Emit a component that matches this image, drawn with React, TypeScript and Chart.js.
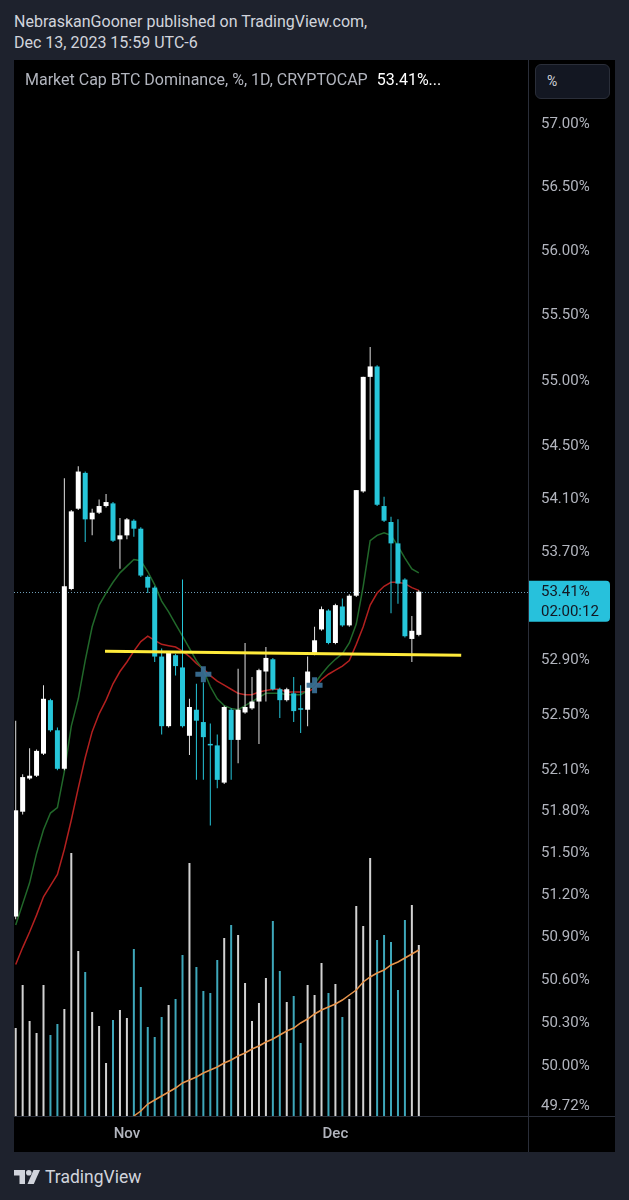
import React, { useEffect, useRef } from 'react';
import { Chart, registerables } from 'chart.js';

Chart.register(...registerables);

// ---- Data (daily candles, Oct 16 -> Dec 13, 2023) ----
const timeTickPositions = [16, 46];
const timeTickLabels = ['Nov', 'Dec'];

const priceTicks = [57.0, 56.5, 56.0, 55.5, 55.0, 54.5, 54.1, 53.7, 52.9, 52.5, 52.1, 51.8, 51.5, 51.2, 50.9, 50.6, 50.3, 50.0, 49.72];

const openPrices = [51.05, 51.8, 52.04, 52.06, 52.22, 52.61, 52.39, 52.11, 53.43, 54.03, 54.3, 53.95, 54.0, 54.05, 54.07, 53.8, 53.83, 53.94, 53.88, 53.52, 53.44, 52.93, 52.42, 52.94, 52.85, 52.35, 52.54, 52.45, 52.29, 52.28, 52.01, 52.54, 52.32, 52.52, 52.55, 52.6, 52.82, 52.91, 52.69, 52.61, 52.66, 52.55, 52.54, 52.95, 53.13, 53.27, 53.03, 53.3, 53.16, 53.38, 54.16, 55.03, 55.11, 54.05, 53.93, 53.77, 53.5, 53.06, 53.09];
const highPrices = [52.46, 52.07, 52.26, 52.25, 52.72, 52.62, 52.41, 54.26, 54.02, 54.35, 54.31, 54.03, 54.1, 54.14, 54.08, 53.96, 53.96, 53.95, 53.89, 53.53, 53.45, 52.99, 52.97, 52.95, 53.5, 52.62, 52.73, 52.74, 52.44, 52.36, 52.57, 52.55, 52.84, 53.03, 52.78, 52.84, 53.0, 52.92, 52.7, 52.7, 52.78, 52.72, 52.93, 53.15, 53.3, 53.28, 53.32, 53.36, 53.39, 54.17, 55.03, 55.26, 55.12, 54.12, 53.97, 53.95, 53.51, 53.23, 53.42];
const lowPrices = [51.03, 51.78, 52.03, 52.05, 52.21, 52.38, 52.1, 52.1, 53.42, 54.02, 53.78, 53.83, 53.99, 54.04, 53.78, 53.58, 53.8, 53.82, 53.52, 53.4, 52.89, 52.36, 52.41, 52.79, 52.41, 52.21, 52.03, 52.03, 51.7, 51.97, 52.0, 52.03, 52.15, 52.51, 52.54, 52.29, 52.6, 52.68, 52.48, 52.6, 52.45, 52.37, 52.42, 52.94, 53.12, 53.02, 53.02, 53.15, 53.15, 53.37, 54.15, 54.55, 54.05, 53.93, 53.25, 53.32, 53.07, 52.89, 53.08];
const closePrices = [51.81, 52.05, 52.06, 52.24, 52.62, 52.39, 52.11, 53.45, 54.01, 54.31, 53.95, 54.0, 54.05, 54.08, 53.79, 53.83, 53.95, 53.88, 53.53, 53.44, 52.93, 52.42, 52.96, 52.86, 52.42, 52.56, 52.46, 52.34, 52.28, 52.03, 52.56, 52.32, 52.54, 52.56, 52.6, 52.83, 52.92, 52.69, 52.61, 52.69, 52.53, 52.54, 52.82, 53.05, 53.28, 53.03, 53.31, 53.16, 53.38, 54.17, 55.03, 55.11, 54.06, 53.94, 53.77, 53.47, 53.08, 53.12, 53.41];

const maFast = [50.99, 51.14, 51.29, 51.5, 51.67, 51.79, 51.83, 52.09, 52.42, 52.62, 52.9, 53.15, 53.31, 53.4, 53.48, 53.55, 53.6, 53.65, 53.64, 53.56, 53.46, 53.34, 53.26, 53.17, 53.08, 52.99, 52.9, 52.83, 52.71, 52.62, 52.57, 52.55, 52.54, 52.57, 52.6, 52.63, 52.66, 52.66, 52.66, 52.65, 52.65, 52.65, 52.68, 52.73, 52.8, 52.86, 52.91, 52.95, 53.03, 53.17, 53.45, 53.79, 53.83, 53.85, 53.83, 53.75, 53.66, 53.58, 53.55];
const maSlow = [50.71, 50.83, 50.94, 51.06, 51.19, 51.27, 51.35, 51.53, 51.74, 51.97, 52.19, 52.38, 52.51, 52.61, 52.73, 52.82, 52.89, 52.97, 53.04, 53.08, 53.05, 53.02, 53.01, 53.0, 52.97, 52.93, 52.88, 52.84, 52.79, 52.75, 52.72, 52.69, 52.66, 52.65, 52.65, 52.67, 52.68, 52.69, 52.69, 52.67, 52.67, 52.67, 52.67, 52.7, 52.76, 52.8, 52.83, 52.86, 52.9, 53.02, 53.15, 53.31, 53.4, 53.45, 53.48, 53.48, 53.47, 53.44, 53.42];

// relative volume units
const volumes = [88, 131, 95, 83, 131, 81, 92, 107, 263, 165, 144, 104, 90, 53, 96, 106, 98, 167, 129, 89, 79, 99, 111, 117, 161, 253, 149, 125, 123, 156, 178, 191, 181, 133, 95, 113, 138, 195, 145, 114, 120, 73, 131, 121, 153, 123, 132, 99, 117, 210, 190, 258, 176, 181, 174, 126, 196, 211, 171];
const volumeMa = [null, null, null, null, null, null, null, null, null, null, null, null, null, null, null, null, null, 0, 5, 12, 16, 20, 24, 28, 33, 36, 39, 43, 46, 49, 53, 56, 60, 63, 67, 70, 74, 77, 81, 85, 88, 93, 97, 102, 106, 109, 112, 116, 121, 126, 134, 139, 143, 146, 151, 154, 158, 162, 166];

const supportX = [12.85, 64.1];
const supportY = [52.97, 52.94];
const crossX = [27, 43];
const crossY = [52.8, 52.72];

const lastPrice = 53.41;
const countdown = '02:00:12';

const X_MIN = -0.245;
const X_MAX = 73.71;
const Y_MIN = 49.653;
const Y_MAX = 57.51;
const VOL_MAX = 1056;

const UP = '#ffffff';
const DOWN = '#26c6da';
const AXIS_TEXT = '#b2b5be';

const overlayPlugin = {
  id: 'tvOverlay',
  beforeDatasetsDraw(chart: any) {
    const { ctx, chartArea, scales } = chart;
    const py = Math.round(scales.y.getPixelForValue(lastPrice)) + 0.5;
    ctx.save();
    ctx.strokeStyle = 'rgba(130,185,215,0.85)';
    ctx.lineWidth = 1;
    ctx.setLineDash([1, 2]);
    ctx.beginPath();
    ctx.moveTo(chartArea.left, py);
    ctx.lineTo(chartArea.right, py);
    ctx.stroke();
    ctx.restore();
  },
  afterDraw(chart: any) {
    const { ctx, chartArea, scales, width, height } = chart;
    ctx.save();
    ctx.strokeStyle = '#2a2e39';
    ctx.lineWidth = 1;
    ctx.beginPath();
    ctx.moveTo(Math.round(chartArea.right) + 0.5, 0);
    ctx.lineTo(Math.round(chartArea.right) + 0.5, height);
    ctx.moveTo(0, Math.round(chartArea.bottom) + 0.5);
    ctx.lineTo(width, Math.round(chartArea.bottom) + 0.5);
    ctx.stroke();

    const py = scales.y.getPixelForValue(lastPrice);
    const bx = chartArea.right + 1;
    const by = py - 11;
    const bw = 81;
    const bh = 41;
    ctx.fillStyle = '#27c1dc';
    ctx.beginPath();
    if (ctx.roundRect) {
      ctx.roundRect(bx, by, bw, bh, [0, 4, 4, 0]);
    } else {
      ctx.rect(bx, by, bw, bh);
    }
    ctx.fill();
    ctx.fillStyle = '#131722';
    ctx.font = '15px Roboto';
    ctx.textAlign = 'left';
    ctx.textBaseline = 'middle';
    ctx.fillText(`${lastPrice.toFixed(2)}%`, chartArea.right + 13, py + 1);
    ctx.fillText(countdown, chartArea.right + 13, py + 21);
    ctx.restore();
  },
};

export default function App() {
  const canvasRef = useRef<HTMLCanvasElement | null>(null);

  useEffect(() => {
    const canvas = canvasRef.current;
    if (!canvas) return;
    const idx = openPrices.map((_, i) => i);
    const isUp = (i: number) => closePrices[i] >= openPrices[i];

    const chart = new Chart(canvas, {
      type: 'bar',
      data: {
        datasets: [
          {
            type: 'bar',
            label: 'Volume',
            data: idx.map((i) => ({ x: i, y: volumes[i] })),
            yAxisID: 'yv',
            grouped: false,
            maxBarThickness: 2,
            backgroundColor: idx.map((i) => (isUp(i) ? '#d2d2d2' : '#3ea7ba')),
            order: 10,
          } as any,
          {
            type: 'line',
            label: 'Volume MA',
            data: idx.filter((i) => volumeMa[i] !== null).map((i) => ({ x: i, y: volumeMa[i] })),
            yAxisID: 'yv',
            borderColor: '#e8954c',
            borderWidth: 1.5,
            pointRadius: 0,
            order: 9,
          },
          {
            type: 'line',
            label: 'MA slow',
            data: idx.map((i) => ({ x: i, y: maSlow[i] })),
            yAxisID: 'y',
            borderColor: '#b3201f',
            borderWidth: 1.5,
            pointRadius: 0,
            order: 8,
          },
          {
            type: 'line',
            label: 'MA fast',
            data: idx.map((i) => ({ x: i, y: maFast[i] })),
            yAxisID: 'y',
            borderColor: '#21682a',
            borderWidth: 1.5,
            pointRadius: 0,
            order: 7,
          },
          {
            type: 'bar',
            label: 'Wick',
            data: idx.map((i) => ({ x: i, y: [lowPrices[i], highPrices[i]] })),
            yAxisID: 'y',
            grouped: false,
            maxBarThickness: 1,
            backgroundColor: idx.map((i) => (isUp(i) ? '#e0e0e0' : DOWN)),
            order: 5,
          } as any,
          {
            type: 'bar',
            label: 'Body',
            data: idx.map((i) => ({ x: i, y: [openPrices[i], closePrices[i]] })),
            yAxisID: 'y',
            grouped: false,
            maxBarThickness: 5,
            minBarLength: 1.5,
            backgroundColor: idx.map((i) => (isUp(i) ? UP : DOWN)),
            order: 4,
          } as any,
          {
            type: 'line',
            label: 'Support',
            data: supportX.map((x, k) => ({ x, y: supportY[k] })),
            yAxisID: 'y',
            borderColor: '#ffeb3b',
            borderWidth: 3,
            pointRadius: 0,
            order: 2,
          },
          {
            type: 'line',
            label: 'MA cross',
            data: crossX.map((x, k) => ({ x, y: crossY[k] })),
            yAxisID: 'y',
            showLine: false,
            pointStyle: 'cross',
            pointRadius: 8,
            pointBorderWidth: 5,
            pointBorderColor: 'rgba(58,112,150,0.92)',
            pointBackgroundColor: 'rgba(58,112,150,0.92)',
            order: 1,
          } as any,
        ],
      },
      options: {
        responsive: false,
        animation: false,
        events: [],
        layout: { padding: 0, autoPadding: false },
        plugins: { legend: { display: false }, tooltip: { enabled: false } },
        scales: {
          x: {
            type: 'linear',
            min: X_MIN,
            max: X_MAX,
            offset: false,
            grid: { display: false, drawTicks: false },
            border: { display: false },
            ticks: {
              color: AXIS_TEXT,
              font: { family: 'Roboto', size: 15, weight: '500' },
              padding: 9,
              autoSkip: false,
              maxRotation: 0,
              callback: (v: any) => {
                const k = timeTickPositions.indexOf(Number(v));
                return k >= 0 ? timeTickLabels[k] : '';
              },
            },
            afterBuildTicks: (s: any) => {
              s.ticks = timeTickPositions.map((v) => ({ value: v }));
            },
            afterFit: (s: any) => {
              s.height = 36;
              s.paddingLeft = 0;
              s.paddingRight = 0;
            },
          },
          y: {
            type: 'logarithmic',
            position: 'right',
            min: Y_MIN,
            max: Y_MAX,
            beginAtZero: false,
            grid: { display: false, drawTicks: false },
            border: { display: false },
            ticks: {
              color: AXIS_TEXT,
              font: { family: 'Roboto', size: 15 },
              padding: 13,
              autoSkip: false,
              callback: (v: any) => `${Number(v).toFixed(2)}%`,
            },
            afterBuildTicks: (s: any) => {
              s.ticks = priceTicks.map((v) => ({ value: v }));
            },
            afterFit: (s: any) => {
              s.width = 87;
              s.paddingTop = 0;
              s.paddingBottom = 0;
            },
          },
          yv: {
            type: 'linear',
            display: false,
            min: 0,
            max: VOL_MAX,
          },
        },
      } as any,
      plugins: [overlayPlugin],
    });
    return () => chart.destroy();
  }, []);

  return (
    <div
      style={{
        position: 'absolute',
        left: 0,
        top: 0,
        width: 629,
        height: 1200,
        background: '#1e222d',
        fontFamily: 'Roboto, sans-serif',
        overflow: 'hidden',
      }}
    >
      <div style={{ position: 'absolute', left: 14, top: 11, color: '#d1d4dc', fontSize: 16, lineHeight: '21px', whiteSpace: 'nowrap' }}>
        NebraskanGooner published on TradingView.com,
        <br />
        Dec 13, 2023 15:59 UTC-6
      </div>
      <div style={{ position: 'absolute', left: 14, top: 60, width: 601, height: 1092, background: '#000' }}>
        <canvas ref={canvasRef} width={601} height={1092} style={{ display: 'block', width: 601, height: 1092 }} />
        <div style={{ position: 'absolute', left: 11, top: 10, fontSize: 16, lineHeight: '20px', color: AXIS_TEXT, whiteSpace: 'nowrap' }}>
          Market Cap BTC Dominance, %, 1D, CRYPTOCAP<span style={{ color: '#ffffff', marginLeft: 9 }}>53.41%...</span>
        </div>
        <div
          style={{
            position: 'absolute',
            left: 521,
            top: 4,
            width: 75,
            height: 35,
            boxSizing: 'border-box',
            border: '1px solid #2a2e39',
            borderRadius: 6,
            background: '#131722',
            color: '#d1d4dc',
            fontSize: 14,
            lineHeight: '33px',
            paddingLeft: 11,
          }}
        >
          %
        </div>
      </div>
      <div style={{ position: 'absolute', left: 14, top: 1165, height: 24, display: 'flex', alignItems: 'center' }}>
        <svg width="26" height="14" viewBox="0 0 26 14" style={{ display: 'block' }}>
          <path d="M0 0 H11 V14 H5.5 V5.5 H0 Z" fill="#d1d4dc" />
          <circle cx="14.8" cy="2.8" r="2.8" fill="#d1d4dc" />
          <path d="M19.5 0 H26 L19.8 14 H13.5 Z" fill="#d1d4dc" />
        </svg>
        <span style={{ marginLeft: 5, color: '#d1d4dc', fontSize: 17.5 }}>TradingView</span>
      </div>
    </div>
  );
}
